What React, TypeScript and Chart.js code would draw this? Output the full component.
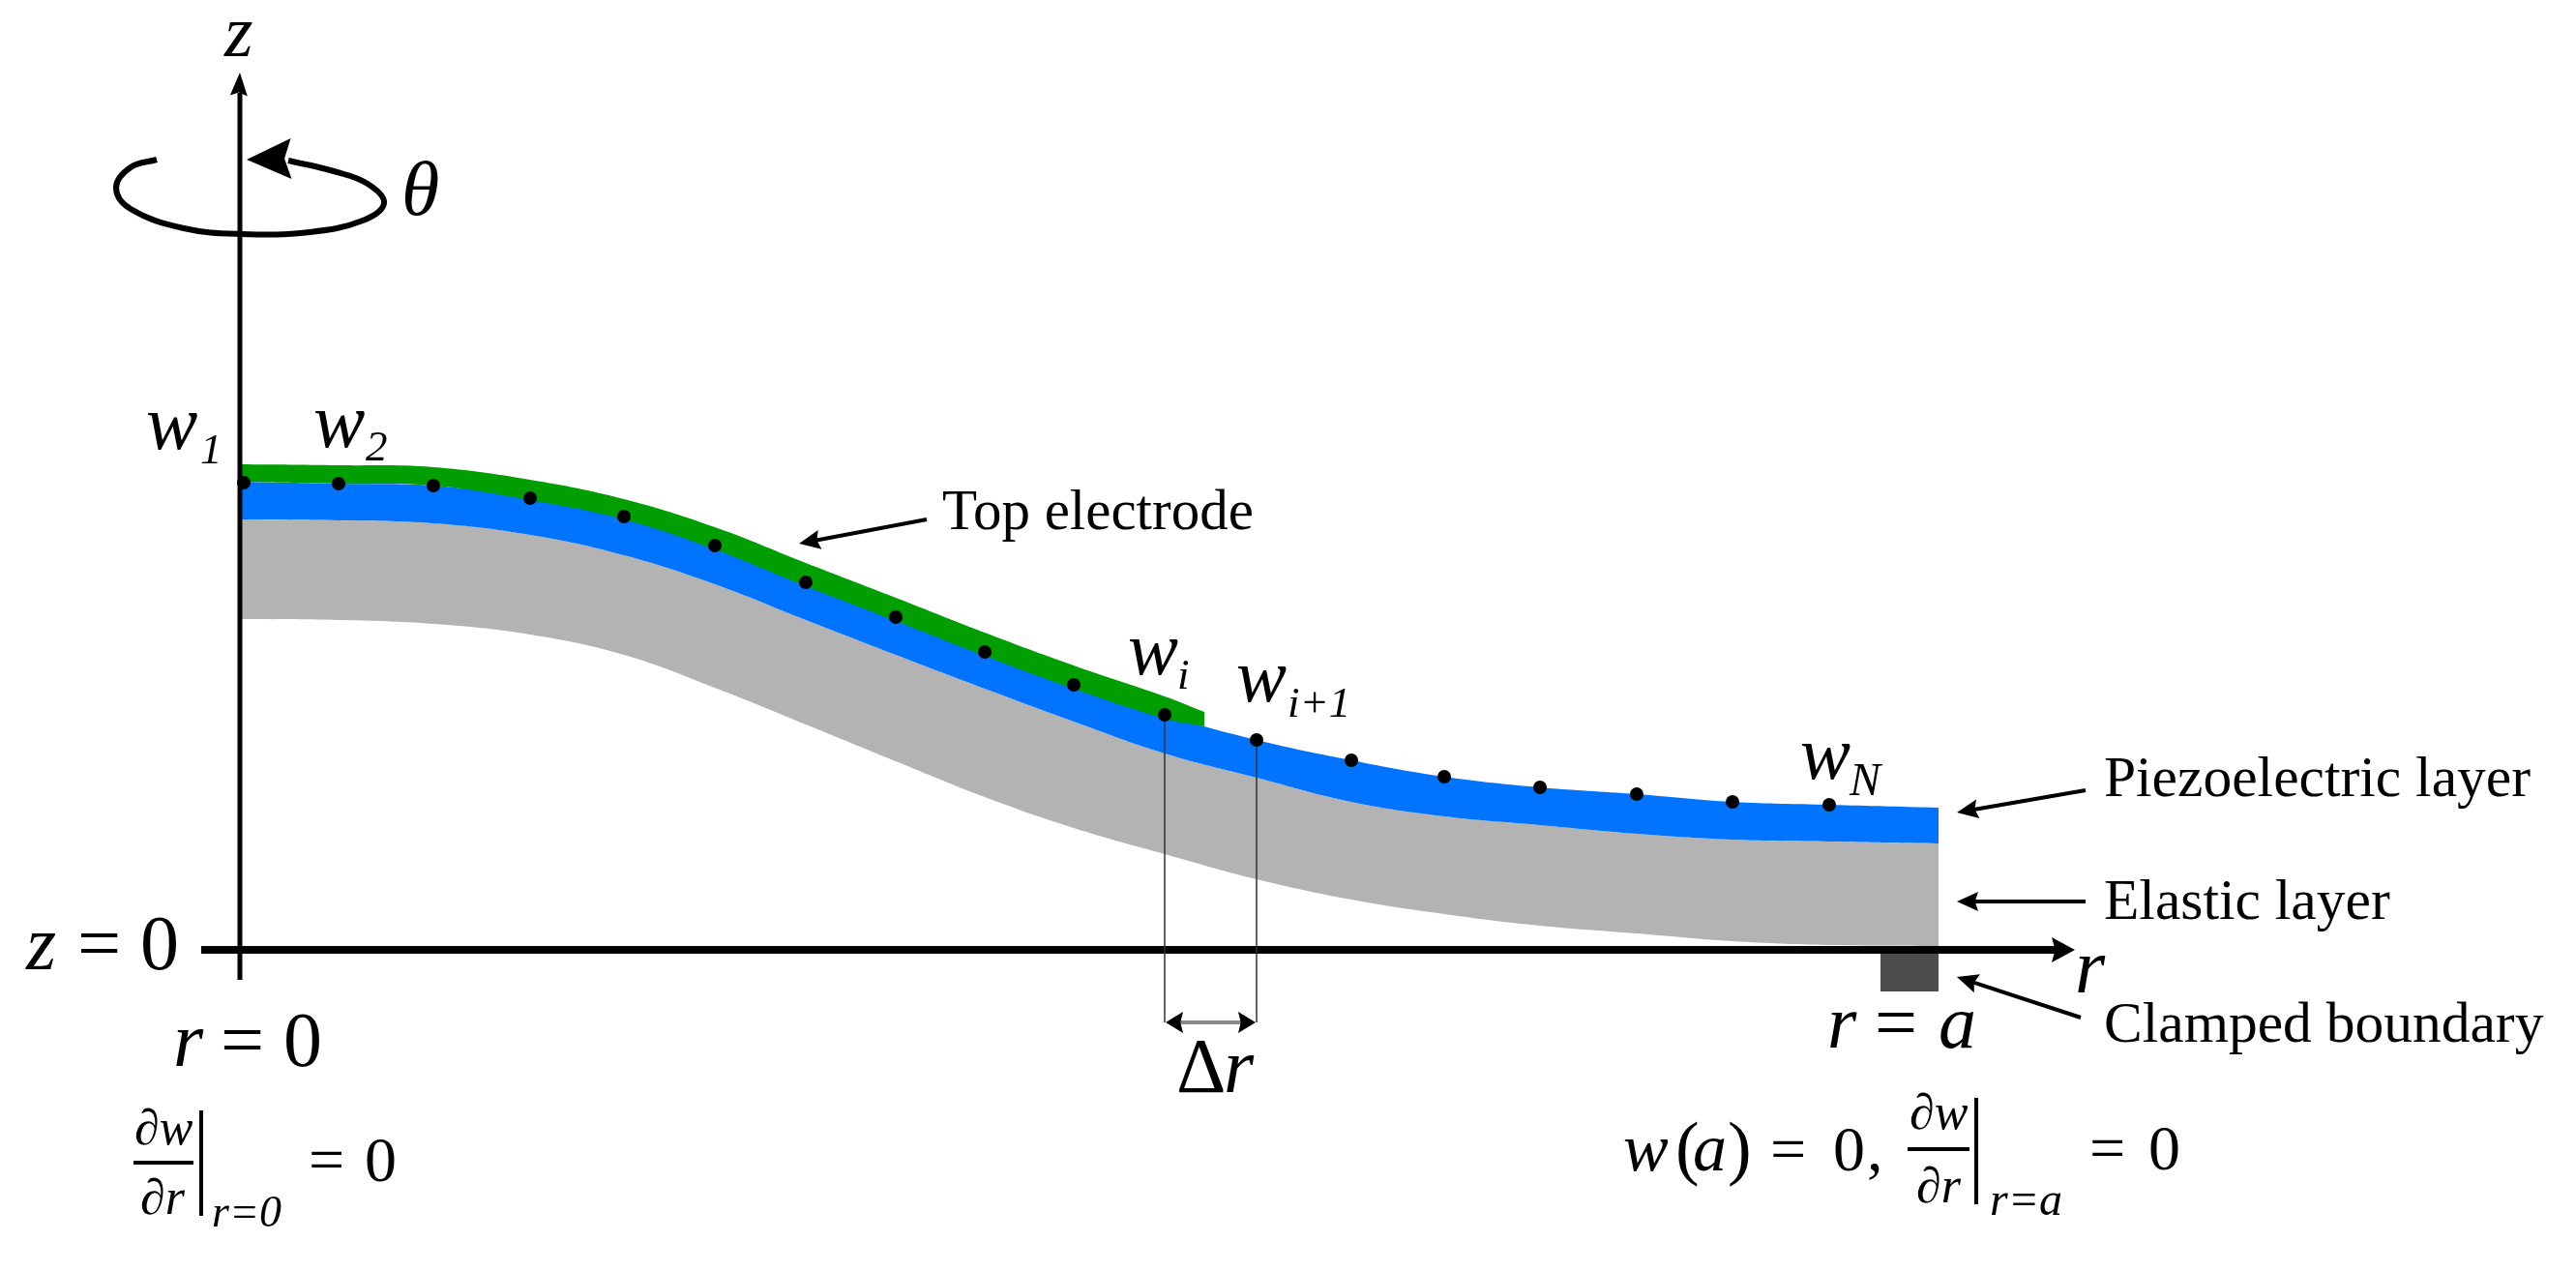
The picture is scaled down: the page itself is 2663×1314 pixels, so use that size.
import { useEffect, useRef } from "react";
import * as React from "react";
import { Chart, registerables } from "chart.js";

Chart.register(...registerables);

// radial nodes r (px of the drawing, r = 0 on the z axis) and heights z above r axis
const layerR = [0, 102, 200, 300, 397, 491, 585, 678, 770, 862, 956, 1051, 1149, 1245, 1344, 1444, 1543, 1643, 1756];
const piezoTop = [484, 482, 480, 467, 448, 418, 380, 344, 308, 274, 243, 217, 196, 179, 168, 161, 153, 150, 147];
const piezoBottom = [445, 444, 441, 429, 408, 378, 341, 305, 270, 236, 203, 178, 153, 138, 129, 120, 114, 112, 110];
const elasticBottom = [342, 341, 337, 326, 305, 271, 233, 195, 158, 126, 99, 73, 52, 37, 25, 17, 9, 5, 4];

const electrodeR = [0, 102, 200, 300, 397, 491, 585, 678, 770, 862, 956, 997];
const electrodeTop = [502, 501, 499, 486, 466, 437, 400, 364, 328, 294, 262, 246];
const electrodeBottom = [484, 482, 480, 465, 445, 414, 376, 340, 304, 270, 239, 231];

const nodeR = [4, 102, 200, 300, 397, 491, 585, 678, 770, 862, 956, 1051, 1149, 1245, 1344, 1444, 1543, 1643];
const nodeW = [483, 482, 480, 467, 448, 418, 380, 344, 308, 274, 243, 217, 196, 179, 168, 161, 153, 150];

const clampR = [1696, 1756];
const clampTop = [0, 0];
const clampBottom = [-43, -43];

const thetaR = [-86, -113, -128, -113, -58, 2, 72, 127, 149, 132, 97, 50];
const thetaZ = [817, 809, 788, 766, 746, 740, 742, 754, 772, 792, 805, 816];

type Arrow = { from: number[]; to: number[]; len: number; half: number; width: number };
type Label = { text: string; r: number; z: number; size: number; italic?: boolean };

const arrows: Arrow[] = [
  { from: [-1, 886], to: [0, 907], len: 24, half: 9, width: 0 },
  { from: [1870, 0], to: [1897, 0], len: 24, half: 13, width: 0 },
  { from: [51, 818], to: [7, 817], len: 46, half: 21, width: 0 },
  { from: [710, 445], to: [578, 420], len: 22, half: 10, width: 4 },
  { from: [1908, 165], to: [1775, 142], len: 22, half: 10, width: 4 },
  { from: [1908, 50], to: [1775, 50], len: 22, half: 10, width: 4 },
  { from: [1903, -70], to: [1775, -28], len: 22, half: 10, width: 4 },
  { from: [975, -75], to: [957, -75], len: 18, half: 11, width: 0 },
  { from: [1032, -75], to: [1050, -75], len: 18, half: 11, width: 0 },
];

const labels: Label[] = [
  { text: "z", r: -16, z: 924, size: 76, italic: true },
  { text: "θ", r: 167, z: 760, size: 80, italic: true },
  { text: "w", r: -97, z: 518, size: 80, italic: true },
  { text: "1", r: -41, z: 503, size: 45, italic: true },
  { text: "w", r: 76, z: 520, size: 80, italic: true },
  { text: "2", r: 130, z: 506, size: 45, italic: true },
  { text: "w", r: 918, z: 285, size: 78, italic: true },
  { text: "i", r: 969, z: 270, size: 45, italic: true },
  { text: "w", r: 1030, z: 257, size: 78, italic: true },
  { text: "i+1", r: 1083, z: 241, size: 45, italic: true },
  { text: "w", r: 1613, z: 177, size: 78, italic: true },
  { text: "N", r: 1664, z: 160, size: 48, italic: true },
  { text: "Top electrode", r: 726, z: 435, size: 59 },
  { text: "Piezoelectric layer", r: 1927, z: 159, size: 59.5 },
  { text: "Elastic layer", r: 1927, z: 32, size: 59.5 },
  { text: "Clamped boundary", r: 1927, z: -95, size: 59.5 },
  { text: "r", r: 1897, z: -44, size: 80, italic: true },
  { text: "r", r: 1641, z: -101, size: 78, italic: true },
  { text: "=", r: 1690, z: -101, size: 78 },
  { text: "a", r: 1756, z: -101, size: 78, italic: true },
  { text: "z", r: -221, z: -20, size: 80, italic: true },
  { text: "=", r: -168, z: -20, size: 80 },
  { text: "0", r: -103, z: -20, size: 80 },
  { text: "r", r: -69, z: -120, size: 80, italic: true },
  { text: "=", r: -20, z: -120, size: 80 },
  { text: "0", r: 45, z: -120, size: 80 },
  { text: "∂w", r: -109, z: -201, size: 52, italic: true },
  { text: "∂r", r: -103, z: -273, size: 52, italic: true },
  { text: "r=0", r: -29, z: -286, size: 46, italic: true },
  { text: "=", r: 71, z: -239, size: 66 },
  { text: "0", r: 129, z: -239, size: 66 },
  { text: "w", r: 1430, z: -228, size: 70, italic: true },
  { text: "(", r: 1484, z: -229, size: 74 },
  { text: "a", r: 1502, z: -228, size: 70, italic: true },
  { text: ")", r: 1538, z: -229, size: 74 },
  { text: "=", r: 1582, z: -228, size: 66 },
  { text: "0", r: 1647, z: -228, size: 66 },
  { text: ",", r: 1682, z: -228, size: 66 },
  { text: "∂w", r: 1726, z: -185, size: 52, italic: true },
  { text: "∂r", r: 1733, z: -261, size: 52, italic: true },
  { text: "r=a", r: 1809, z: -274, size: 48, italic: true },
  { text: "=", r: 1912, z: -227, size: 66 },
  { text: "0", r: 1973, z: -227, size: 66 },
  { text: "Δ", r: 968, z: -147, size: 80 },
  { text: "r", r: 1017, z: -147, size: 80, italic: true },
];

const pairs = (xs: number[], ys: number[]) => xs.map((x, i) => ({ x, y: ys[i] }));

const shape = (label: string, data: any[], extra: any) => ({
  label,
  data,
  pointRadius: 0,
  borderWidth: 0,
  borderColor: "transparent",
  fill: false,
  tension: 0,
  ...extra,
});

const segment = (label: string, a: number[], b: number[], color: string, width: number, order: number) =>
  shape(label, [{ x: a[0], y: a[1] }, { x: b[0], y: b[1] }], { borderColor: color, borderWidth: width, order });

// arrow shafts and heads, text: everything through the scales
const annotations = {
  id: "annotations",
  afterDatasetsDraw(chart: any) {
    const { ctx, scales } = chart;
    const px = (r: number) => scales.x.getPixelForValue(r);
    const py = (z: number) => scales.y.getPixelForValue(z);
    ctx.save();
    ctx.fillStyle = "#000";
    ctx.strokeStyle = "#000";
    arrows.forEach((a) => {
      const x0 = px(a.from[0]), y0 = py(a.from[1]), x1 = px(a.to[0]), y1 = py(a.to[1]);
      const angle = Math.atan2(y1 - y0, x1 - x0);
      if (a.width > 0) {
        ctx.lineWidth = a.width;
        ctx.beginPath();
        ctx.moveTo(x0, y0);
        ctx.lineTo(x1 - a.len * 0.6 * Math.cos(angle), y1 - a.len * 0.6 * Math.sin(angle));
        ctx.stroke();
      }
      ctx.translate(x1, y1);
      ctx.rotate(angle);
      ctx.beginPath();
      ctx.moveTo(0, 0);
      ctx.lineTo(-a.len, -a.half);
      ctx.lineTo(-a.len * 0.85, 0);
      ctx.lineTo(-a.len, a.half);
      ctx.closePath();
      ctx.fill();
      ctx.rotate(-angle);
      ctx.translate(-x1, -y1);
    });
    ctx.textBaseline = "alphabetic";
    ctx.textAlign = "left";
    labels.forEach((l) => {
      ctx.font = `${l.italic ? "italic " : ""}${l.size}px "Liberation Serif"`;
      ctx.fillText(l.text, px(l.r), py(l.z));
    });
    ctx.restore();
  },
};

const App: React.FC = () => {
  const chartRef = useRef<HTMLCanvasElement>(null);

  useEffect(() => {
    if (!chartRef.current) return;
    const chart = new Chart(chartRef.current, {
      type: "line",
      data: {
        datasets: [
          shape("Elastic top", pairs(layerR, piezoBottom), { fill: { target: 1 }, backgroundColor: "#b3b3b3", tension: 0.4, order: 20 }),
          shape("Elastic bottom", pairs(layerR, elasticBottom), { tension: 0.4, order: 21 }),
          shape("Piezo top", pairs(layerR, piezoTop), { fill: { target: 3 }, backgroundColor: "#0073ff", tension: 0.4, order: 18 }),
          shape("Piezo bottom", pairs(layerR, piezoBottom), { tension: 0.4, order: 19 }),
          shape("Electrode top", pairs(electrodeR, electrodeTop), { fill: { target: 5 }, backgroundColor: "#009e00", tension: 0.4, order: 16 }),
          shape("Electrode bottom", pairs(electrodeR, electrodeBottom), { tension: 0.4, order: 17 }),
          shape("Clamp top", pairs(clampR, clampTop), { fill: { target: 7 }, backgroundColor: "#4d4d4d", order: 14 }),
          shape("Clamp bottom", pairs(clampR, clampBottom), { order: 15 }),
          segment("r axis", [-40, 0], [1880, 0], "#000", 8, 10),
          segment("z axis", [0, -31], [0, 886], "#000", 5, 10),
          segment("w_i drop", [956, 243], [956, -75], "#333", 1.5, 9),
          segment("w_i+1 drop", [1051, 217], [1051, -75], "#333", 1.5, 9),
          segment("delta r", [970, -75], [1035, -75], "#8a8a8a", 4, 8),
          segment("left fraction", [-110, -220], [-48, -220], "#000", 4, 8),
          segment("left bar", [-40, -166], [-40, -275], "#000", 4, 8),
          segment("right fraction", [1724, -206], [1788, -206], "#000", 4, 8),
          segment("right bar", [1795, -153], [1795, -263], "#000", 4, 8),
          shape("theta", pairs(thetaR, thetaZ), { borderColor: "#000", borderWidth: 6, tension: 0.4, order: 7 }),
          {
            label: "w nodes",
            data: pairs(nodeR, nodeW),
            showLine: false,
            pointRadius: 7,
            pointBackgroundColor: "#000",
            pointBorderWidth: 0,
            order: 1,
          },
        ] as any,
      },
      options: {
        animation: false,
        responsive: false,
        devicePixelRatio: 1,
        events: [],
        layout: { padding: 0, autoPadding: false },
        plugins: { legend: { display: false }, tooltip: { enabled: false } },
        scales: {
          x: { type: "linear", display: false, min: -248, max: 2415 },
          y: { type: "linear", display: false, min: -332, max: 982 },
        },
      },
      plugins: [annotations],
    });
    return () => chart.destroy();
  }, []);

  return (
    <div style={{ position: "absolute", left: 0, top: 0, width: 2663, height: 1314, background: "#fff" }}>
      <canvas ref={chartRef} width={2663} height={1314} style={{ display: "block", filter: "blur(0.7px)" }}></canvas>
    </div>
  );
};

export default App;
